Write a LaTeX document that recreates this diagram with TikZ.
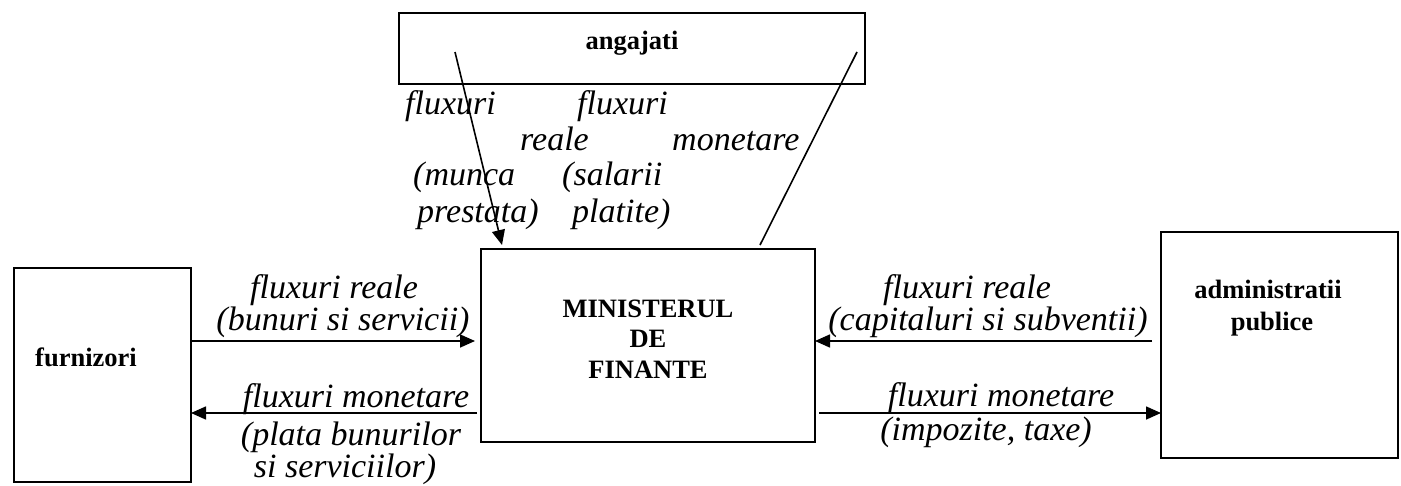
\documentclass[tikz,border=0pt]{standalone}
\usepackage{fontspec}
\setmainfont{Liberation Serif}
\usetikzlibrary{arrows.meta}
\begin{document}
\begin{tikzpicture}[x=1pt,y=-1pt,
  box/.style={draw, line width=2pt, rectangle, inner sep=0pt, outer sep=0pt, anchor=north west},
  lbl/.style={font=\fontsize{34}{34}\selectfont\itshape, inner sep=0pt, anchor=base},
  lbll/.style={lbl, anchor=base west},
  boldtxt/.style={font=\fontsize{26.5}{26.5}\selectfont\bfseries, inner sep=0pt, anchor=base},
  flow/.style={line width=1.6pt, -{Triangle[length=15pt,width=13pt]}},
  plainline/.style={line width=1.6pt}]
\useasboundingbox (0,0) rectangle (1401,485);
% boxes
\node[box, minimum width=466pt, minimum height=71pt] (ang) at (399,13) {};
\node[box, minimum width=334pt, minimum height=193pt] (mf) at (481,249) {};
\node[box, minimum width=177pt, minimum height=214pt] (furn) at (14,268) {};
\node[box, minimum width=237pt, minimum height=226pt] (admin) at (1161,232) {};
% box texts
\node[boldtxt] (tang) at (632,49) {angajati};
\node[boldtxt] (tmf1) at (648,317) {MINISTERUL};
\node[boldtxt] (tmf2) at (648,347) {DE};
\node[boldtxt] (tmf3) at (648,378) {FINANTE};
\node[boldtxt] (tfurn) at (86,366) {furnizori};
\node[boldtxt] (tadm1) at (1268,298) {administratii};
\node[boldtxt] (tadm2) at (1272,330) {publice};
% top labels
\node[lbll] (t1) at (405,114) {fluxuri};
\node[lbll] (t2) at (577,114) {fluxuri};
\node[lbll] (t3) at (520,150) {reale};
\node[lbll] (t4) at (672,150) {monetare};
\node[lbll] (t5) at (413,185) {(munca};
\node[lbll] (t6) at (562,185) {(salarii};
\node[lbll] (t7) at (417,222) {prestata)};
\node[lbll] (t8) at (572,222) {platite)};
% left labels
\node[lbl] (l1) at (334,298) {fluxuri reale};
\node[lbl] (l2) at (343,330) {(bunuri si servicii)};
\node[lbl] (l3) at (356,407) {fluxuri monetare};
\node[lbl] (l4) at (351,445) {(plata bunurilor};
\node[lbl] (l5) at (345,477) {si serviciilor)};
% right labels
\node[lbl] (r1) at (967,298) {fluxuri reale};
\node[lbl] (r2) at (988,330) {(capitaluri si subventii)};
\node[lbl] (r3) at (1001,406) {fluxuri monetare};
\node[lbl] (r4) at (986,440) {(impozite, taxe)};
% connectors
\coordinate (yr) at (0,341);
\coordinate (ym) at (0,413);
\draw[flow, shorten >=6pt] (furn.east |- yr) -- (mf.west |- yr);
\draw[flow, shorten <=4pt] (mf.west |- ym) -- (furn.east |- ym);
\draw[flow, shorten <=9pt] (admin.west |- yr) -- (mf.east |- yr);
\draw[flow, shorten <=4pt] (mf.east |- ym) -- (admin.west |- ym);
\coordinate (a1s) at (455,52);
\coordinate (a1e) at (502,245);
\coordinate (a2s) at (857,52);
\coordinate (a2e) at (760,245);
\draw[flow] (a1s) -- (a1e);
\draw[plainline] (a2s) -- (a2e);
\end{tikzpicture}
\end{document}
